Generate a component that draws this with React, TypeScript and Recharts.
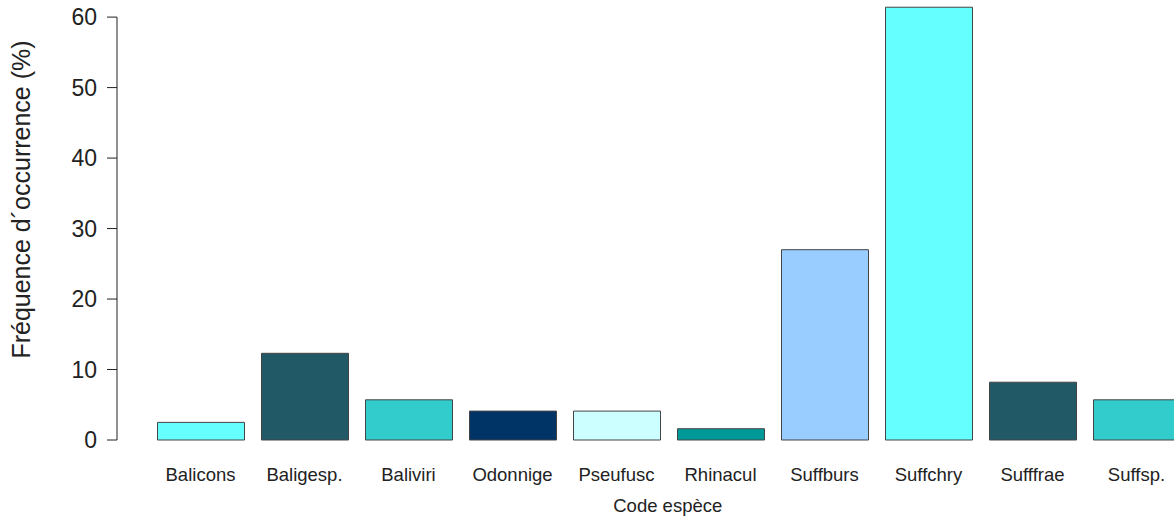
import { Bar, BarChart, Cell, XAxis, YAxis, Label, usePlotArea, useYAxisDomain } from "recharts"

const species = [
  "Balicons",
  "Baligesp.",
  "Baliviri",
  "Odonnige",
  "Pseufusc",
  "Rhinacul",
  "Suffburs",
  "Suffchry",
  "Sufffrae",
  "Suffsp.",
]
const occurrence = [2.5, 12.3, 5.7, 4.1, 4.1, 1.6, 27.0, 61.4, 8.2, 5.7]
const barColors = [
  "#66FFFF",
  "#215967",
  "#33CCCC",
  "#003366",
  "#CCFFFF",
  "#009999",
  "#99CCFF",
  "#66FFFF",
  "#215967",
  "#33CCCC",
]
const yTicks = [0, 10, 20, 30, 40, 50, 60]
const yMax = 62

const data = species.map((code, i) => ({ code, value: occurrence[i] }))

const FONT = "'Liberation Sans', Arial, sans-serif"
const INK = "#222222"

// R-style axis: the spine only runs from the first to the last tick
function AxisSpine() {
  const plot = usePlotArea()
  const domain = useYAxisDomain() as number[] | undefined
  if (!plot || !domain) return null
  const lo = Number(domain[0])
  const hi = Number(domain[domain.length - 1])
  const yOf = (v: number) => plot.y + plot.height * (1 - (v - lo) / (hi - lo))
  return (
    <line
      x1={plot.x}
      x2={plot.x}
      y1={yOf(yTicks[yTicks.length - 1])}
      y2={yOf(yTicks[0])}
      stroke={INK}
      strokeWidth={1}
    />
  )
}

function YTitle(props: any) {
  const vb = props.viewBox || { x: 0, y: 0, width: 0, height: 0 }
  const cx = 30
  const cy = vb.y + vb.height / 2 - 22
  return (
    <text
      x={cx}
      y={cy}
      transform={`rotate(-90, ${cx}, ${cy})`}
      textAnchor="middle"
      fontFamily={FONT}
      fontSize={25}
      fill={INK}
    >
      Fréquence d´occurrence (%)
    </text>
  )
}

export default function App() {
  return (
    <div style={{ position: "fixed", left: 0, top: 0, width: 1174, height: 518, overflow: "hidden", background: "#fff" }}>
      <BarChart width={1200} height={518} data={data} margin={{ top: 3, right: 11.5, bottom: 0, left: 0 }}>
        <XAxis
          dataKey="code"
          axisLine={false}
          tickLine={false}
          tickMargin={22}
          height={78}
          padding={{ left: 31.5, right: 0 }}
          interval={0}
          tick={{ fontFamily: FONT, fontSize: 18.5, fill: INK }}
        >
          <Label
            value="Code espèce"
            position="insideBottom"
            offset={6}
            dx={15}
            style={{ fontFamily: FONT, fontSize: 18.5, fill: INK }}
          />
        </XAxis>
        <YAxis
          width={117}
          domain={[0, yMax]}
          ticks={yTicks}
          axisLine={false}
          tickSize={10}
          tickMargin={10}
          tickLine={{ stroke: INK }}
          tick={{ fontFamily: FONT, fontSize: 23, fill: INK }}
        >
          <Label content={<YTitle />} />
        </YAxis>
        <AxisSpine />
        <Bar dataKey="value" barSize={87} stroke="#444444" strokeWidth={1} isAnimationActive={false}>
          {data.map((d, i) => (
            <Cell key={d.code} fill={barColors[i]} />
          ))}
        </Bar>
      </BarChart>
    </div>
  )
}
